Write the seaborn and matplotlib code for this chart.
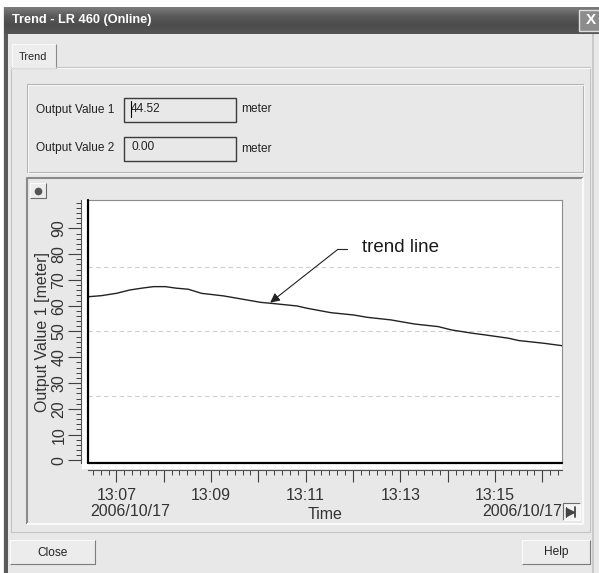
import matplotlib
matplotlib.use("Agg")
import matplotlib.pyplot as plt
import matplotlib.dates as mdates
from matplotlib.patches import Rectangle
from matplotlib.ticker import FuncFormatter, MultipleLocator
import numpy as np
import pandas as pd
import seaborn as sns

day = "2006/10/17"
times = ["13:06:25", "13:06:41", "13:07:00", "13:07:17", "13:07:32", "13:07:47",
         "13:08:02", "13:08:16", "13:08:31", "13:08:48", "13:09:16", "13:09:33",
         "13:10:03", "13:10:17", "13:10:49", "13:11:02", "13:11:32", "13:12:01",
         "13:12:18", "13:12:48", "13:13:18", "13:13:48", "13:14:05", "13:14:32",
         "13:14:47", "13:15:17", "13:15:30", "13:16:03", "13:16:25"]
values = [63.5, 63.9, 64.8, 66.1, 66.8, 67.4, 67.4, 66.8, 66.4, 64.8, 63.8, 62.9,
          61.3, 60.9, 59.9, 59.0, 57.3, 56.4, 55.5, 54.5, 52.9, 51.9, 50.6, 49.3,
          48.7, 47.4, 46.5, 45.4, 44.5]
y_ticks = [0, 10, 20, 30, 40, 50, 60, 70, 80, 90]
grid_levels = [25, 50, 75]
output_labels = ["Output Value 1", "Output Value 2"]
output_values = ["44.52", "0.00"]
unit = "meter"

BODY = "#e8e8e8"
TXT = "#222222"

sns.set_style("white")
plt.rcParams["font.family"] = ["Liberation Sans", "DejaVu Sans"]

W, H = 599, 573
fig = plt.figure(figsize=(W / 100, H / 100), dpi=100)
fig.patch.set_facecolor("white")

# axe de fond en pixels pour la fenêtre
bg = fig.add_axes([0, 0, 1, 1])
bg.set_xlim(0, W)
bg.set_ylim(H, 0)
bg.axis("off")


def rect(x0, y0, x1, y1, fc="none", ec="none", lw=1.0, z=1):
    bg.add_patch(Rectangle((x0, y0), x1 - x0, y1 - y0, facecolor=fc,
                           edgecolor=ec, linewidth=lw, zorder=z))


def bevel(x0, y0, x1, y1, tl, br, lw=0.8, z=3):
    bg.plot([x0, x0, x1], [y1, y0, y0], color=tl, lw=lw, zorder=z, solid_capstyle="butt")
    bg.plot([x1, x1, x0], [y0, y1, y1], color=br, lw=lw, zorder=z, solid_capstyle="butt")


# fenêtre
rect(3, 7, W + 2, H + 2, fc=BODY)
rect(4, 30, 8, H + 2, fc="#5a5a5a", z=2)
rect(592, 30, 594, H + 2, fc="#c9c9c9", z=2)

# barre de titre
grad = np.linspace(0, 1, 40).reshape(-1, 1)
bg.imshow(grad, extent=(4, W + 2, 34, 7), cmap=matplotlib.colors.LinearSegmentedColormap.from_list(
    "tb", ["#7c7c7c", "#5a5a5a", "#4c4c4c", "#555555"]), aspect="auto", zorder=2)
bg.set_xlim(0, W)
bg.set_ylim(H, 0)
bg.text(12, 20.5, "Trend - LR 460 (Online)", color="white", fontsize=9.2,
        fontweight="bold", va="center", ha="left", zorder=4)
rect(579, 10, 603, 31, fc="#8c8c8c", ec="#e0e0e0", lw=1.0, z=3)
bg.text(591, 20.5, "X", color="white", fontsize=11, fontweight="bold",
        va="center", ha="center", zorder=4)

# onglet
bg.plot([11, 11, 590, 590, 11], [67, 532, 532, 67, 67], color="#c4c4c4", lw=0.8, zorder=2)
bg.plot([11, 590], [67.5, 67.5], color="#fafafa", lw=0.8, zorder=2)
rect(12, 44, 56, 68, fc="#ededed", z=3)
bevel(12, 44, 56, 68, "#fafafa", "#8a8a8a", z=3)
bg.plot([12.5, 55.5], [68, 68], color="#ededed", lw=1.2, zorder=4)
bg.text(33, 56.5, "Trend", fontsize=7.8, color=TXT,
        va="center", ha="center", zorder=4)

# groupe des valeurs
rect(27, 84, 583, 172, ec="#b4b4b4", lw=0.8, z=2)
rect(28, 85, 584, 173, ec="#fafafa", lw=0.6, z=2)
for i, (lab, val) in enumerate(zip(output_labels, output_values)):
    y0 = 98 + i * 39
    yc = y0 + 11.5
    bg.text(36, yc, lab, fontsize=8.6, color=TXT, va="center", ha="left", zorder=4)
    rect(124, y0, 236, y0 + 24, fc=BODY, ec="#3c3c3c", lw=1.0, z=3)
    bg.text(131, yc - 1, val, fontsize=8.6, color=TXT, va="center", ha="left", zorder=4)
    bg.text(241, yc, unit, fontsize=8.6, color=TXT, va="center", ha="left", zorder=4)
bg.plot([130.5, 130.5], [101, 117], color="black", lw=0.8, zorder=5)

# cadre du graphique
rect(27, 178, 583, 524, fc=BODY, z=2)
bevel(27, 178, 583, 524, "#8a8a8a", "#fafafa", lw=1.5, z=3)
rect(30, 183, 46, 198, fc="#ececec", z=3)
bevel(30, 183, 46, 198, "#fafafa", "#6c6c6c", z=4)
bg.plot([38], [190.5], marker="o", ms=4.5, color="#555555", zorder=5)
rect(82, 200, 562, 468.5, fc="white", z=3)

# bouton de fin
rect(563, 503, 580, 520, fc="#f4f4f4", z=3)
bevel(563, 503, 580, 520, "#6c6c6c", "#fafafa", z=4)
bg.plot([570], [511.5], marker=">", ms=6, color="#444444", zorder=5)
bg.plot([575, 575], [506.5, 516.5], color="#444444", lw=1.3, zorder=5)
bg.plot([566, 566], [506.5, 516.5], color="#444444", lw=0.8, zorder=5)

# boutons
for x0, x1, lab in [(10, 95, "Close"), (522, 590, "Help")]:
    rect(x0, 540, x1, 564, fc="#ececec", z=3)
    bevel(x0, 540, x1, 564, "#fafafa", "#7c7c7c", z=4)
    bg.text((x0 + x1) / 2, 552.5, lab, fontsize=8.6, color=TXT,
            va="center", ha="center", zorder=5)

# dates
bg.text(90, 512, day, fontsize=11.5, color="#333333", va="center", ha="left", zorder=5)
bg.text(562, 512, day, fontsize=11.5, color="#333333", va="center", ha="right", zorder=5)


def fig_rect(x0, y0, x1, y1):
    return [x0 / W, 1 - y1 / H, (x1 - x0) / W, (y1 - y0) / H]


ax = fig.add_axes(fig_rect(88, 200, 562, 463))
ax.set_facecolor("white")

df = pd.DataFrame({"time": pd.to_datetime(["2006-10-17 " + t for t in times]),
                   "value": values})

for g in grid_levels:
    ax.axhline(g, color="#cfcfcf", lw=0.8, ls=(0, (4, 3)), zorder=1)

sns.lineplot(data=df, x="time", y="value", ax=ax, color="#222222",
             linewidth=1.0, estimator=None, zorder=3)

ax.set_xlim(pd.Timestamp("2006-10-17 13:06:24"), pd.Timestamp("2006-10-17 13:16:25"))
ax.set_ylim(-1, 101)

# règles des axes
for side in ["left", "bottom"]:
    ax.spines[side].set_position(("outward", 5))
    ax.spines[side].set_color("#505050")
    ax.spines[side].set_linewidth(0.8)
for side in ["top", "right"]:
    ax.spines[side].set_color("#8c8c8c")
    ax.spines[side].set_linewidth(0.8)
ax.plot([0, 0], [0, 1], transform=ax.transAxes, color="black", lw=1.6, clip_on=False, zorder=5)
ax.plot([0, 1], [0, 0], transform=ax.transAxes, color="black", lw=1.6, clip_on=False, zorder=5)

ax.set_yticks(y_ticks)
ax.yaxis.set_minor_locator(MultipleLocator(2))
ax.tick_params(axis="y", which="major", direction="out", length=9.4, width=0.8,
               color="#404040", labelsize=11.5, labelcolor="#333333", pad=1.0,
               labelrotation=90, left=True)
ax.tick_params(axis="y", which="minor", direction="out", length=3.6, width=0.7,
               color="#404040", left=True)
for lab in ax.get_yticklabels():
    lab.set_va("center")

ax.xaxis.set_major_locator(mdates.MinuteLocator())
ax.xaxis.set_minor_locator(mdates.SecondLocator(bysecond=range(0, 60, 10)))
ax.xaxis.set_major_formatter(FuncFormatter(
    lambda v, p: mdates.num2date(v).strftime("%H:%M") if mdates.num2date(v).minute % 2 else ""))
ax.tick_params(axis="x", which="major", direction="out", length=8.6, width=0.8,
               color="#404040", labelsize=11.5, labelcolor="#333333", pad=4.5, bottom=True)
ax.tick_params(axis="x", which="minor", direction="out", length=3.6, width=0.7,
               color="#404040", bottom=True)

ax.set_ylabel("Output Value 1 [meter]", fontsize=11.5, color="#333333", labelpad=1)
ax.set_xlabel("Time", fontsize=11.5, color="#333333", labelpad=3)

# annotation de la courbe
tip = (pd.Timestamp("2006-10-17 13:10:15"), 61.2)
tail = (pd.Timestamp("2006-10-17 13:11:41"), 81.9)
tail_end = pd.Timestamp("2006-10-17 13:11:53")
ax.annotate("", xy=tip, xytext=tail,
            arrowprops=dict(arrowstyle="-|>", color="#222222", lw=0.8,
                            shrinkA=0, shrinkB=0, mutation_scale=14), zorder=4)
ax.plot([tail[0], tail_end], [tail[1], tail[1]], color="#222222", lw=0.8, zorder=4)
ax.text(pd.Timestamp("2006-10-17 13:12:12"), 82.4, "trend line", fontsize=13.5,
        color="#1a1a1a", va="center", ha="left", zorder=4)

plt.savefig("out.png", dpi=100)
plt.close()
